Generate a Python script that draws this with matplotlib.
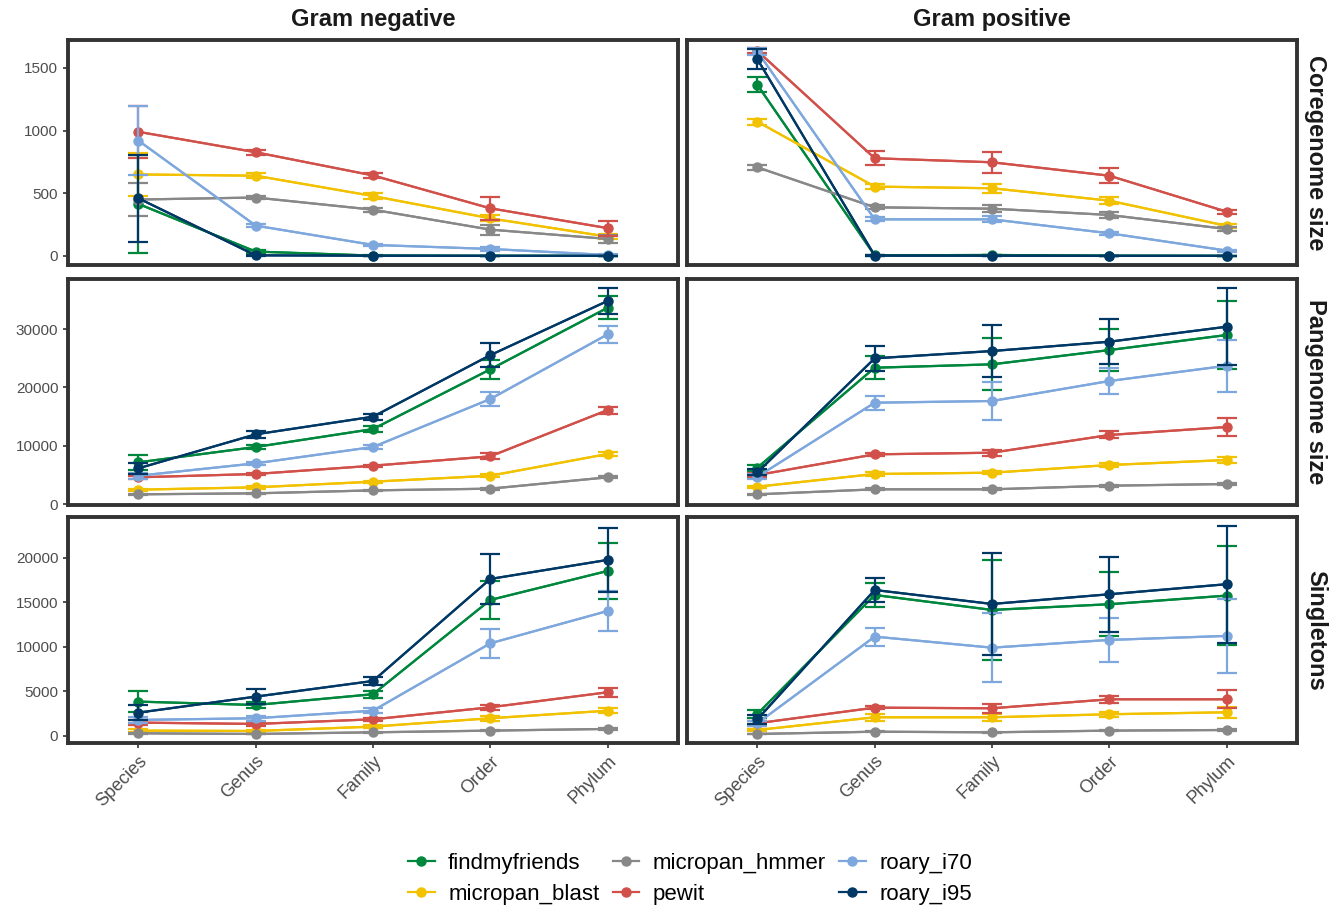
import matplotlib
matplotlib.use("Agg")
import matplotlib.pyplot as plt
import numpy as np

plt.rcParams['font.family'] = ['Liberation Sans', 'DejaVu Sans']

levels = ["Species", "Genus", "Family", "Order", "Phylum"]
tools = ["findmyfriends", "micropan_blast", "micropan_hmmer", "pewit", "roary_i70", "roary_i95"]
colors = ["#00873E", "#F2C100", "#888888", "#D1514A", "#7EA8DD", "#003865"]
gram = ["Gram negative", "Gram positive"]
metrics = ["Coregenome size", "Pangenome size", "Singletons"]

# mean / error per tool, rows in the order of `tools`
core_neg = [[415, 35, 3, 1, 1], [650, 640, 478, 300, 154], [450, 466, 369, 210, 136],
            [990, 827, 642, 380, 222], [920, 242, 88, 56, 8], [460, 5, 2, 1, 1]]
core_neg_err = [[390, 10, 2, 1, 1], [170, 20, 25, 25, 20], [130, 10, 15, 40, 30],
                [205, 20, 20, 90, 60], [275, 15, 10, 15, 5], [345, 3, 1, 1, 1]]
core_pos = [[1364, 5, 8, 2, 1], [1071, 553, 540, 441, 240], [707, 388, 377, 327, 215],
            [1635, 779, 747, 640, 353], [1630, 292, 292, 181, 43], [1569, 3, 2, 1, 1]]
core_pos_err = [[60, 3, 3, 1, 1], [25, 20, 35, 30, 15], [20, 15, 30, 25, 15],
                [20, 55, 85, 60, 15], [25, 15, 25, 10, 8], [80, 2, 1, 1, 1]]

pan_neg = [[7150, 9780, 12860, 23100, 33670], [2460, 2860, 3830, 4850, 8580],
           [1660, 1830, 2340, 2630, 4580], [4580, 5150, 6570, 8180, 16120],
           [4850, 6980, 9780, 18010, 29100], [6120, 11950, 14980, 25540, 34840]]
pan_neg_err = [[1300, 400, 500, 1600, 2000], [200, 200, 200, 300, 400],
               [100, 100, 100, 150, 200], [300, 200, 200, 500, 600],
               [500, 300, 300, 1200, 1500], [1000, 600, 500, 2000, 2300]]
pan_pos = [[6230, 23380, 23960, 26410, 28990], [2970, 5150, 5370, 6690, 7550],
           [1660, 2520, 2520, 3140, 3430], [4970, 8520, 8800, 11840, 13210],
           [4680, 17380, 17670, 21100, 23720], [5430, 24990, 26240, 27840, 30410]]
pan_pos_err = [[500, 2000, 4460, 3550, 5900], [200, 300, 300, 400, 600],
               [100, 150, 150, 150, 200], [300, 300, 500, 600, 1500],
               [400, 1200, 3200, 2200, 4500], [500, 2100, 4500, 3900, 6600]]

sing_neg = [[3860, 3480, 4690, 15280, 18540], [600, 560, 1050, 1990, 2840],
            [300, 225, 410, 600, 790], [1500, 1350, 1870, 3220, 4910],
            [1800, 1990, 2840, 10410, 14040], [2620, 4420, 6180, 17640, 19780]]
sing_neg_err = [[1200, 300, 400, 2130, 3180], [150, 150, 150, 300, 300],
                [50, 50, 50, 80, 100], [300, 200, 200, 300, 500],
                [300, 300, 300, 1600, 2300], [870, 830, 500, 2800, 3560]]
sing_pos = [[2470, 15840, 14160, 14800, 15770], [670, 2100, 2100, 2440, 2660],
            [225, 480, 410, 600, 670], [1430, 3180, 3110, 4120, 4120],
            [1430, 11160, 9920, 10790, 11240], [1870, 16400, 14830, 15920, 17050]]
sing_pos_err = [[400, 1300, 5600, 3600, 5600], [150, 400, 400, 300, 600],
                [50, 60, 60, 70, 80], [300, 200, 500, 400, 1000],
                [300, 1000, 3900, 2450, 4120], [500, 1300, 5770, 4230, 6550]]

panels = [[(core_neg, core_neg_err), (core_pos, core_pos_err)],
          [(pan_neg, pan_neg_err), (pan_pos, pan_pos_err)],
          [(sing_neg, sing_neg_err), (sing_pos, sing_pos_err)]]
ylims = [(-72, 1722), (-170, 38600), (-790, 24600)]
yticks = [[0, 500, 1000, 1500], [0, 10000, 20000, 30000], [0, 5000, 10000, 15000, 20000]]

fig = plt.figure(figsize=(13.43, 9.11), dpi=100)
W, H = 1343, 911
col_x = [68, 687]
row_y = [(40, 265), (279, 505), (517, 743)]
pw = 610

x = np.arange(len(levels))
handles = []
for r in range(3):
    for c in range(2):
        y0, y1 = row_y[r]
        ax = fig.add_axes([col_x[c] / W, 1 - y1 / H, pw / W, (y1 - y0) / H])
        means, errs = panels[r][c]
        for i, t in enumerate(tools):
            ax.errorbar(x, means[i], yerr=errs[i], color=colors[i], lw=1.6,
                        elinewidth=1.6, capsize=7, capthick=1.6, zorder=3 + i)
            h, = ax.plot(x, means[i], color=colors[i], lw=1.6, marker='o',
                         ms=6.5, zorder=3 + i, label=t)
            if r == 0 and c == 0:
                handles.append(h)
        ax.set_xlim(-0.6, 4.6)
        ax.set_ylim(*ylims[r])
        ax.set_xticks(x)
        ax.set_yticks(yticks[r])
        for s in ax.spines.values():
            s.set_linewidth(2.8)
            s.set_color("#333333")
        ax.tick_params(colors="#333333", labelcolor="#4D4D4D", length=3.5, width=1.2,
                       labelsize=11)
        if c == 0:
            ax.set_yticklabels([str(v) for v in yticks[r]])
        else:
            ax.tick_params(axis='y', left=False, labelleft=False)
        if r == 2:
            ax.set_xticklabels(levels, rotation=45, ha='right', rotation_mode='anchor',
                               fontsize=13)
        else:
            ax.tick_params(axis='x', bottom=False, labelbottom=False)
        if r == 0:
            ax.set_title(gram[c], fontsize=17, fontweight='bold', color="#1A1A1A", pad=10)
        if c == 1:
            ax.text(1.012, 0.5, metrics[r], transform=ax.transAxes, rotation=270,
                    ha='left', va='center', fontsize=17, fontweight='bold', color="#1A1A1A")

fig.legend(handles=handles, labels=tools, ncol=3, loc='center',
           bbox_to_anchor=(690 / W, 1 - 879 / H), frameon=False, fontsize=16,
           handlelength=1.2, columnspacing=0.6, handletextpad=0.6, labelspacing=0.45)

fig.savefig("out.png", dpi=100)
